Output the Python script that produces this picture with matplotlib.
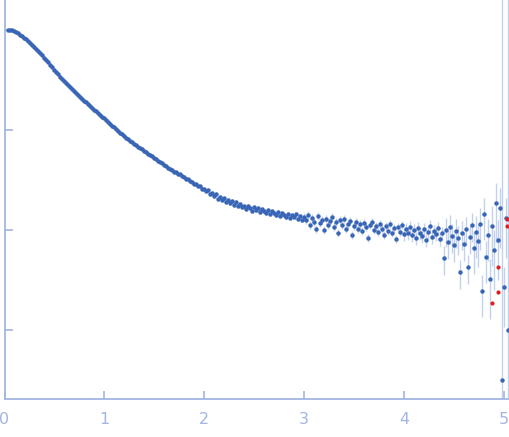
import numpy as np
import matplotlib.pyplot as plt

# scattering vector s (nm^-1) and log10 of intensity
s = [0.04, 0.06, 0.08, 0.10, 0.12, 0.14, 0.16, 0.18, 0.20, 0.22, 0.24, 0.26, 0.28, 0.30, 0.32, 0.34,
     0.36, 0.38, 0.40, 0.42, 0.44, 0.46, 0.48, 0.50, 0.52, 0.54, 0.56, 0.58, 0.60, 0.62, 0.64, 0.66,
     0.68, 0.70, 0.72, 0.74, 0.76, 0.78, 0.80, 0.82, 0.84, 0.86, 0.88, 0.90, 0.92, 0.94, 0.96, 0.98,
     1.00, 1.02, 1.04, 1.06, 1.08, 1.10, 1.12, 1.14, 1.16, 1.18, 1.20, 1.22, 1.24, 1.26, 1.28, 1.30,
     1.32, 1.34, 1.36, 1.38, 1.40, 1.42, 1.44, 1.46, 1.48, 1.50, 1.52, 1.54, 1.56, 1.58, 1.60, 1.62,
     1.64, 1.66, 1.68, 1.70, 1.72, 1.74, 1.76, 1.78, 1.80, 1.82, 1.84, 1.86, 1.88, 1.90, 1.92, 1.94,
     1.96, 1.98, 2.00, 2.02, 2.04, 2.06, 2.08, 2.10, 2.12, 2.14, 2.16, 2.18, 2.20, 2.22, 2.24, 2.26,
     2.28, 2.30, 2.32, 2.34, 2.36, 2.38, 2.40, 2.42, 2.44, 2.46, 2.48, 2.50, 2.52, 2.54, 2.56, 2.58,
     2.60, 2.62, 2.64, 2.66, 2.68, 2.70, 2.72, 2.74, 2.76, 2.78, 2.80, 2.82, 2.84, 2.86, 2.88, 2.90,
     2.92, 2.94, 2.96, 2.98, 3.00, 3.02, 3.04, 3.06, 3.08, 3.10, 3.12, 3.14, 3.16, 3.18, 3.20, 3.22,
     3.24, 3.26, 3.28, 3.30, 3.32, 3.34, 3.36, 3.38, 3.40, 3.42, 3.44, 3.46, 3.48, 3.50, 3.52, 3.54,
     3.56, 3.58, 3.60, 3.62, 3.64, 3.66, 3.68, 3.70, 3.72, 3.74, 3.76, 3.78, 3.80, 3.82, 3.84, 3.86,
     3.88, 3.90, 3.92, 3.94, 3.96, 3.98, 4.00, 4.02, 4.04, 4.06, 4.08, 4.10, 4.12, 4.14, 4.16, 4.18,
     4.20, 4.22, 4.24, 4.26, 4.28, 4.30, 4.32, 4.34, 4.36, 4.38, 4.40, 4.42, 4.44, 4.46, 4.48, 4.50,
     4.52, 4.54, 4.56, 4.58, 4.60, 4.62, 4.64, 4.66, 4.68, 4.70, 4.72, 4.74, 4.76, 4.78, 4.80, 4.82,
     4.84, 4.86, 4.88, 4.90, 4.92, 4.94, 4.96, 4.98, 5.00, 5.02, 5.04]

log_i = [0.00, 0.00, -0.005, -0.01, -0.02, -0.03, -0.05, -0.065, -0.08, -0.095, -0.11, -0.13, -0.15, -0.17, -0.19, -0.21,
         -0.23, -0.255, -0.28, -0.30, -0.325, -0.35, -0.375, -0.40, -0.42, -0.445, -0.47, -0.49, -0.51, -0.53, -0.55, -0.57,
         -0.59, -0.61, -0.63, -0.65, -0.67, -0.69, -0.71, -0.725, -0.745, -0.76, -0.78, -0.80, -0.815, -0.83, -0.85, -0.87,
         -0.885, -0.90, -0.92, -0.94, -0.96, -0.975, -0.99, -1.01, -1.03, -1.045, -1.06, -1.08, -1.095, -1.11, -1.125, -1.14,
         -1.155, -1.17, -1.18, -1.195, -1.21, -1.225, -1.24, -1.25, -1.265, -1.28, -1.295, -1.31, -1.32, -1.335, -1.35, -1.365,
         -1.38, -1.39, -1.40, -1.42, -1.425, -1.445, -1.445, -1.465, -1.47, -1.495, -1.49, -1.515, -1.52, -1.545, -1.545, -1.565,
         -1.565, -1.59, -1.59, -1.61, -1.60, -1.64, -1.63, -1.66, -1.64, -1.69, -1.67, -1.70, -1.68, -1.72, -1.70, -1.73,
         -1.71, -1.75, -1.72, -1.76, -1.74, -1.77, -1.76, -1.79, -1.76, -1.78, -1.81, -1.77, -1.80, -1.78, -1.82, -1.79,
         -1.81, -1.83, -1.80, -1.84, -1.81, -1.83, -1.85, -1.82, -1.86, -1.83, -1.85, -1.87, -1.84, -1.88, -1.85, -1.87,
         -1.84, -1.89, -1.86, -1.90, -1.87, -1.90, -1.85, -1.95, -1.88, -1.92, -1.99, -1.86, -1.93, -1.90, -2.00, -1.89,
         -1.95, -1.91, -1.87, -1.97, -1.92, -2.03, -1.90, -1.95, -1.89, -1.99, -1.94, -1.91, -2.05, -1.96, -1.92, -1.99,
         -1.94, -2.01, -1.93, -1.97, -2.08, -1.95, -1.92, -2.00, -1.96, -2.02, -1.94, -1.99, -2.05, -1.96, -2.01, -1.94,
         -2.03, -1.98, -2.09, -1.97, -2.02, -1.95, -2.04, -1.99, -2.03, -1.97, -2.05, -2.00, -2.08, -1.98, -2.03, -2.06,
         -1.99, -2.10, -2.02, -1.96, -2.07, -2.01, -2.04, -1.98, -2.09, -2.03, -2.28, -2.00, -2.12, -1.97, -2.06, -2.15,
         -2.01, -2.08, -2.42, -2.03, -2.14, -1.99, -2.37, -2.07, -1.95, -2.18, -2.02, -2.11, -1.94, -2.61, -1.84, -2.27,
         -2.05, -2.49, -1.96, -2.20, -1.73, -2.10, -1.78, -3.50, -2.57, -1.88, -3.00]

# relative error, piecewise over s ranges
err_edges = [0.0, 2.0, 3.0, 4.0, 4.4, 4.7, 4.85, 5.1]
err_rel = [0.01, 0.04, 0.09, 0.14, 0.32, 0.45, 0.60]
# points whose error bar spans the whole plot (absolute sigma)
err_abs = {4.98: 3.0, 5.04: 3.0}

# points flagged red
s_red = [4.88, 4.94, 4.94, 5.03, 5.03]
log_i_red = [-2.73, -2.62, -2.37, -1.89, -1.96]

s = np.array(s)
inten = 10 ** np.array(log_i)
rel = np.array(err_rel)[np.digitize(s, err_edges) - 1]
sigma = rel * inten
for k, v in err_abs.items():
    sigma[np.isclose(s, k)] = v

axis_col = '#a3b6e2'
pt_col = '#3865b5'

fig = plt.figure(figsize=(5.09, 4.37), dpi=100)
ax = fig.add_axes([4.5 / 509, 38 / 437, 504.5 / 509, 399 / 437])

ax.errorbar(s, inten, yerr=sigma, fmt='none', ecolor='#c3d2ec', elinewidth=1.0, zorder=1)
ax.plot(s, inten, 'o', color=pt_col, markersize=3.2, markeredgewidth=0, zorder=2)
ax.plot(s_red, 10 ** np.array(log_i_red), 'o', color='#e02020', markersize=3.0,
        markeredgewidth=0, zorder=3)

ax.set_yscale('log')
ax.set_xlim(0, 5.05)
ax.set_ylim(10 ** -3.69, 10 ** 0.30)
ax.set_xticks([0, 1, 2, 3, 4, 5])
ax.set_yticks([1, 0.1, 0.01, 0.001])
ax.yaxis.set_minor_locator(plt.NullLocator())
ax.set_yticklabels([])

for side in ['top', 'right']:
    ax.spines[side].set_visible(False)
for side in ['left', 'bottom']:
    ax.spines[side].set_color(axis_col)
    ax.spines[side].set_linewidth(1.3)
ax.tick_params(axis='both', direction='in', color=axis_col, length=6, width=1.2,
               labelcolor=axis_col, labelsize=11.5)
ax.tick_params(axis='x', pad=9)

fig.savefig('out.png', dpi=100)
